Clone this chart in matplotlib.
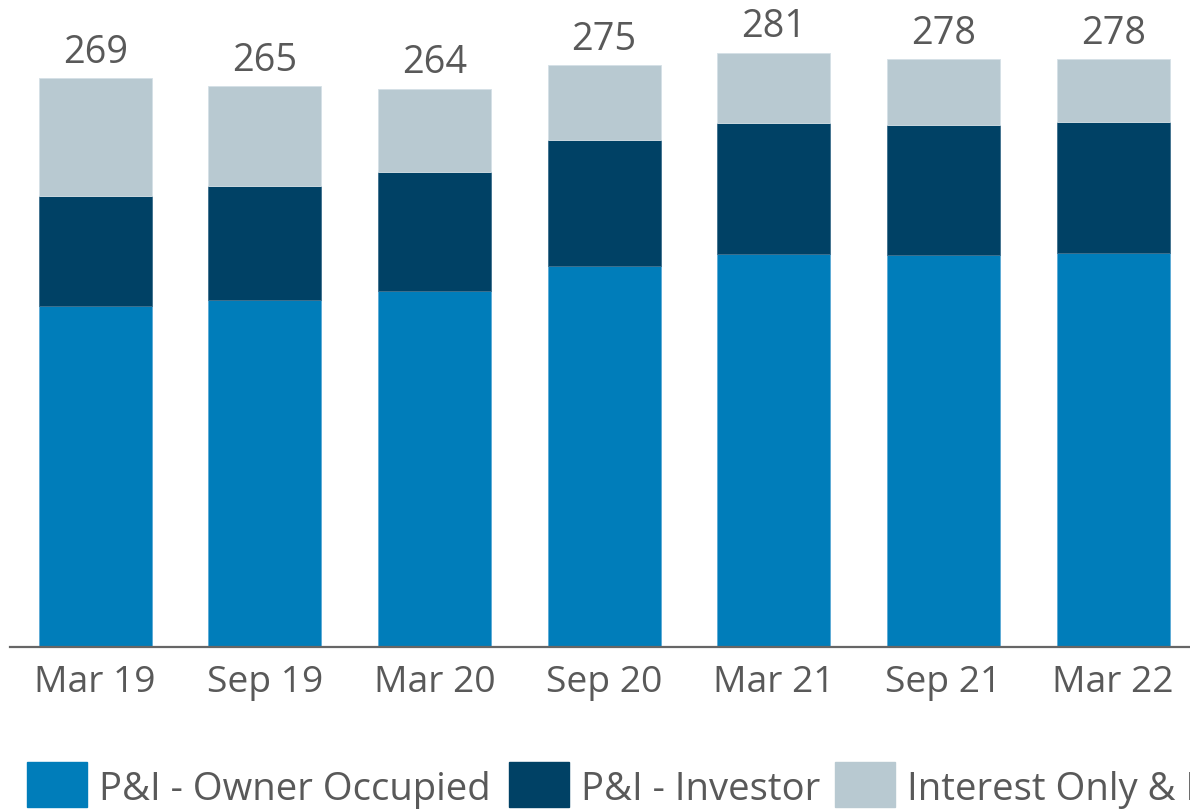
import numpy as np
import matplotlib
matplotlib.use("Agg")
import matplotlib.pyplot as plt
from matplotlib.patches import Rectangle

plt.rcParams['font.family'] = ['Open Sans', 'DejaVu Sans']

periods = ['Mar 19', 'Sep 19', 'Mar 20', 'Sep 20', 'Mar 21', 'Sep 21', 'Mar 22']
owner_occ = [161.2, 164.0, 168.3, 179.9, 185.8, 185.1, 186.4]
investor = [52.1, 53.9, 56.2, 59.9, 61.8, 61.8, 61.9]
io_equity = [55.7, 47.1, 39.5, 35.2, 33.4, 31.1, 29.7]
totals = [269, 265, 264, 275, 281, 278, 278]

series_names = ['P&I - Owner Occupied', 'P&I - Investor', 'Interest Only & Equity Access']
colors = ['#007DBA', '#004165', '#B8C9D1']
txt = '#595959'

fig = plt.figure(figsize=(11.9, 8.11), dpi=100)
ax = fig.add_axes([10/1190, 0.2026, 1180/1190, 0.7974])

x = np.arange(len(periods))
w = 0.665
ax.bar(x, owner_occ, w, color=colors[0], edgecolor='#5aa9d6', linewidth=0.6)
ax.bar(x, investor, w, bottom=owner_occ, color=colors[1], edgecolor='#3d6e8c', linewidth=0.6)
base2 = np.array(owner_occ) + np.array(investor)
ax.bar(x, io_equity, w, bottom=base2, color=colors[2], edgecolor='#d4e0e6', linewidth=0.6)

for xi, t in zip(x, totals):
    ax.text(xi, t + 7.2, str(t), ha='center', va='baseline', fontsize=27.3, color=txt)

ax.set_xlim(-0.502, 6.453)
ax.set_ylim(0, 305.9)
ax.set_xticks(x)
ax.set_xticklabels(periods, fontsize=26.8, color=txt)
ax.tick_params(axis='x', length=0, pad=13)
ax.set_yticks([])
for s in ['top', 'right', 'left']:
    ax.spines[s].set_visible(False)
ax.spines['bottom'].set_color('#666666')
ax.spines['bottom'].set_linewidth(1.6)

# legend row along the bottom
leg_x = [27, 509, 835]
for lx, c, name in zip(leg_x, colors, series_names):
    fig.patches.append(Rectangle((lx/1190, (811-807)/811), 60/1190, 45/811,
                                 transform=fig.transFigure, color=c))
    fig.text((lx + 72)/1190, (811-800)/811, name, fontsize=27.5, color=txt,
             ha='left', va='baseline')

fig.savefig('out.png', dpi=100)
